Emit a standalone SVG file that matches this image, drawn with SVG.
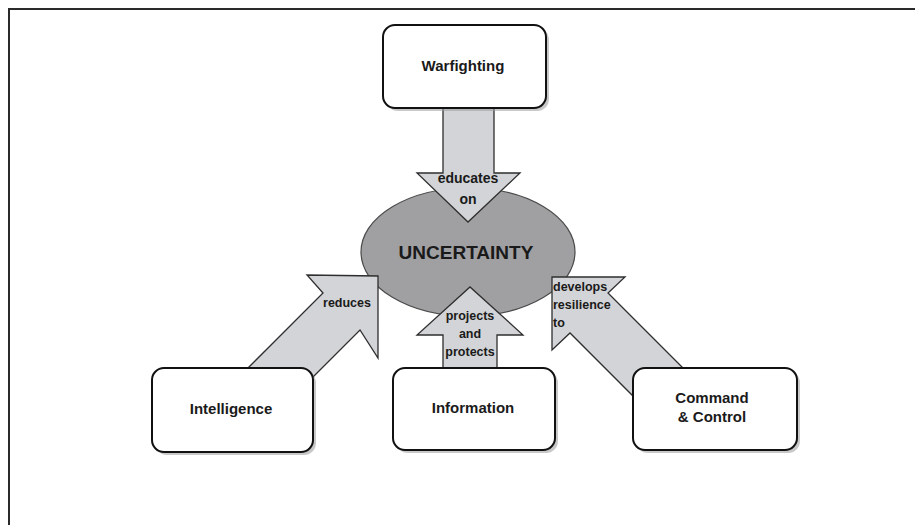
<svg xmlns="http://www.w3.org/2000/svg" width="915" height="525" viewBox="0 0 915 525">
<defs>
<style>
.frame{fill:none;stroke:#2a2a2a;stroke-width:2}
.box{fill:#ffffff;stroke:#111;stroke-width:2}
.shadow{fill:#9a9a9a;opacity:0.55}
.arrow{fill:#d2d4d7;stroke:#2e2e2e;stroke-width:1.3;stroke-linejoin:miter}
.ell{fill:#a0a0a3;stroke:#4a4a4a;stroke-width:1.2}
.t{font-family:"Liberation Sans",Arial,sans-serif;font-weight:bold;fill:#1a1a1a}
.node{font-size:15px;text-anchor:middle}
.lbl{font-size:12.5px}
</style>
</defs>
<rect width="915" height="525" fill="#ffffff"/>
<path class="frame" d="M9,525 V9 H915"/>

<g id="uncertainty">
<ellipse class="ell" cx="468" cy="252" rx="107" ry="64"/>
<text class="t" x="466" y="259" font-size="19" text-anchor="middle">UNCERTAINTY</text>
</g>

<g id="connectors">
<g id="c-warfighting">
<polygon class="arrow" points="443,100 443,173 417,173 468,222 520,173 494,173 494,100"/>
<text class="t" x="468" y="183" font-size="14" text-anchor="middle">educates</text>
<text class="t" x="468" y="204" font-size="14" text-anchor="middle">on</text>
</g>
<g id="c-intelligence">
<polygon class="arrow" points="240,376 323,293 307,275 378,276 378,358 360,330 300,390"/>
<text class="t lbl" x="347" y="307" text-anchor="middle">reduces</text>
</g>
<g id="c-information">
<polygon class="arrow" points="443,375 443,335 417,335 470,287 523,335 497,335 497,375"/>
<text class="t lbl" x="470" y="320" text-anchor="middle">projects</text>
<text class="t lbl" x="470" y="338" text-anchor="middle">and</text>
<text class="t lbl" x="470" y="356" text-anchor="middle">protects</text>
</g>
<g id="c-command">
<polygon class="arrow" points="552,277 625,277 608,293 690,375 650,413 570,333 552,350"/>
<text class="t lbl" x="553" y="291">develops</text>
<text class="t lbl" x="553" y="309">resilience</text>
<text class="t lbl" x="553" y="327">to</text>
</g>
</g>

<g id="warfighting">
<rect class="shadow" x="386" y="28" width="163" height="83" rx="12"/>
<rect class="box" x="383" y="25" width="163" height="83" rx="12"/>
<text class="t node" x="463" y="71">Warfighting</text>
</g>
<g id="intelligence">
<rect class="shadow" x="155" y="371" width="161" height="84" rx="12"/>
<rect class="box" x="152" y="368" width="161" height="84" rx="12"/>
<text class="t node" x="231" y="414">Intelligence</text>
</g>
<g id="information">
<rect class="shadow" x="396" y="371" width="162" height="82" rx="12"/>
<rect class="box" x="393" y="368" width="162" height="82" rx="12"/>
<text class="t node" x="473" y="413">Information</text>
</g>
<g id="command-control">
<rect class="shadow" x="636" y="371" width="164" height="82" rx="12"/>
<rect class="box" x="633" y="368" width="164" height="82" rx="12"/>
<text class="t node" x="712" y="403">Command</text>
<text class="t node" x="712" y="422">&amp; Control</text>
</g>
</svg>
